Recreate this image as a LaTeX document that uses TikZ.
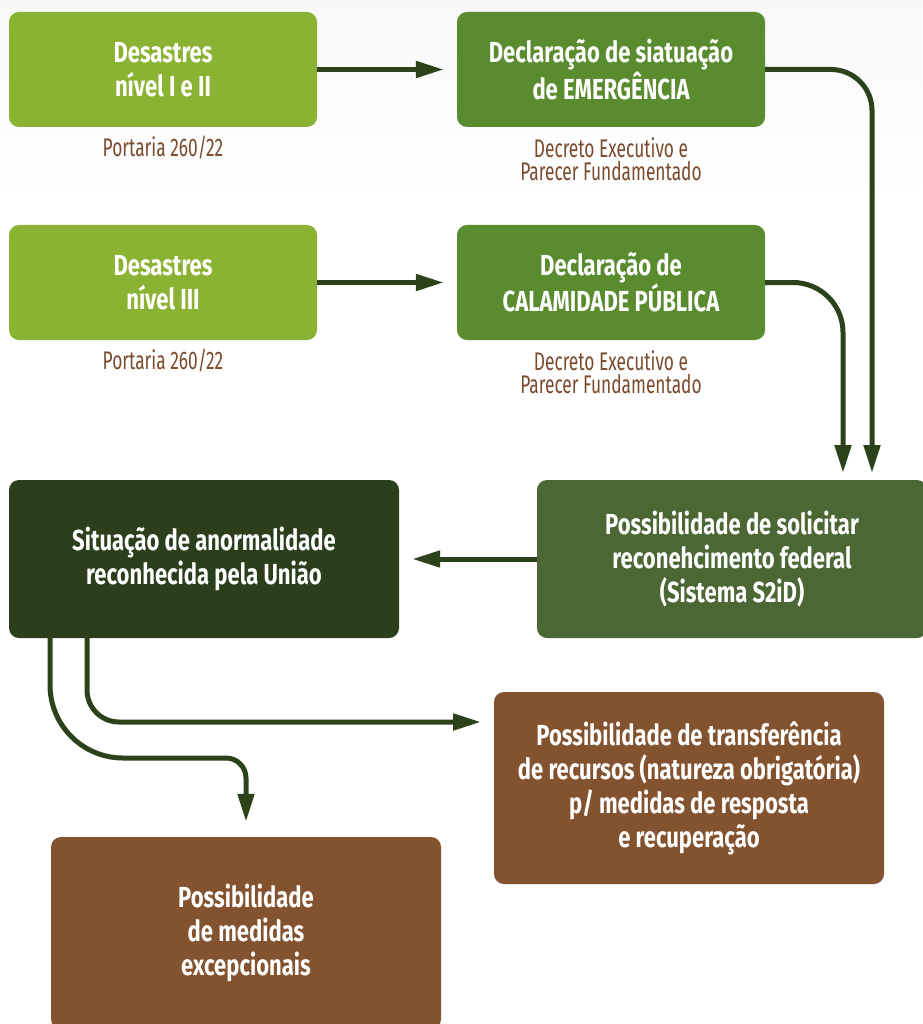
\documentclass[tikz,border=0pt]{standalone}
\usepackage{fontspec}
\setmainfont{Fira Sans}[FakeStretch=0.76]
\newfontfamily\capfont{Fira Sans}[FakeStretch=0.68]
\usetikzlibrary{arrows.meta}
\definecolor{lgreen}{HTML}{8AB333}
\definecolor{mgreen}{HTML}{5A8C2F}
\definecolor{dgreen}{HTML}{2C3F1D}
\definecolor{sgreen}{HTML}{4A6734}
\definecolor{brownbox}{HTML}{83522E}
\definecolor{arrowc}{HTML}{2B421B}
\definecolor{capc}{HTML}{7B4A2C}
\tikzset{
  box/.style={rounded corners=10pt, inner sep=0pt, align=center, text=white,
    font=\bfseries\fontsize{29}{34}\selectfont},
  smallbox/.style={box, minimum width=308pt, minimum height=115pt},
  bigbox/.style={box, minimum width=390pt},
  caption/.style={align=center, text=capc, inner sep=0pt, font=\capfont\fontsize{25.5}{23}\selectfont},
  arr/.style={draw=arrowc, line width=5pt, -{Triangle[length=28pt,width=16pt]}}
}
\begin{document}
\begin{tikzpicture}[x=1pt,y=1pt]
\useasboundingbox (0,0) rectangle (922,-1024);
\shade[top color=black!3, bottom color=white] (0,0) rectangle (922,-200);
% boxes
\node[smallbox, fill=lgreen] (b1) at (163,-69.5) {Desastres\\nível I e II};
\node[smallbox, fill=mgreen] (b2) at (611,-69.5) {Declaração de siatuação\\de EMERGÊNCIA};
\node[smallbox, fill=lgreen] (b3) at (163,-282.5) {Desastres\\nível III};
\node[smallbox, fill=mgreen] (b4) at (611,-282.5) {Declaração de\\CALAMIDADE PÚBLICA};
\node[bigbox, fill=dgreen, minimum height=158pt] (b5) at (204,-559) {Situação de anormalidade\\reconhecida pela União};
\node[bigbox, fill=sgreen, minimum height=158pt] (b6) at (732,-559) {Possibilidade de solicitar\\reconehcimento federal\\(Sistema S2iD)};
\node[bigbox, fill=brownbox, minimum height=192pt] (b7) at (689,-788) {Possibilidade de transferência\\de recursos (natureza obrigatória)\\p/ medidas de resposta\\e recuperação};
\node[bigbox, fill=brownbox, minimum height=192pt] (b8) at (246,-933) {Possibilidade\\de medidas\\excepcionais};
% captions
\node[caption] (c1) at (163,-148) {Portaria 260/22};
\node[caption] (c2) at (611,-159) {Decreto Executivo e\\Parecer Fundamentado};
\node[caption] (c3) at (163,-361) {Portaria 260/22};
\node[caption] (c4) at (611,-372) {Decreto Executivo e\\Parecer Fundamentado};
% arrows
\draw[arr, shorten >=13pt] (b1.east) -- (b2.west);
\draw[arr, shorten >=13pt] (b3.east) -- (b4.west);
\coordinate (e2) at (872,-480);
\coordinate (e4) at (843,-480);
\draw[arr, shorten >=7pt] (b2.east) -- (831,-69.5) arc[start angle=90, end angle=0, radius=41] -- (e2);
\draw[arr, shorten >=7pt] (b4.east) -- (793,-282.5) arc[start angle=90, end angle=0, radius=50] -- (e4);
\draw[arr, shorten >=13pt] (b6.west) -- (b5.east);
\coordinate (s6) at (87,-638);
\coordinate (e6) at (494,-722);
\draw[arr, shorten >=13pt] (s6) -- (87,-690) arc[start angle=180, end angle=270, radius=32] -- (e6);
\coordinate (s7) at (50,-638);
\draw[arr, shorten >=15pt] (s7) -- (50,-685) arc[start angle=180, end angle=270, radius=73] -- (226,-758) arc[start angle=90, end angle=0, radius=20] -- (b8.north);
\end{tikzpicture}
\end{document}
